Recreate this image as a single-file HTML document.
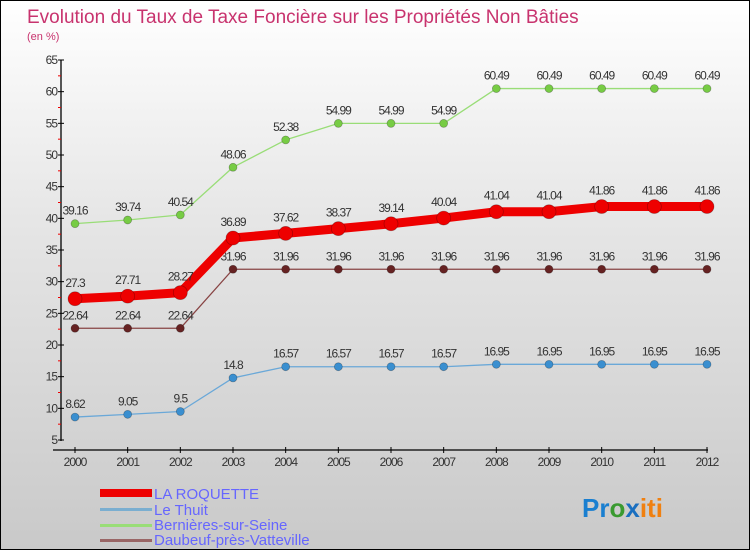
<!DOCTYPE html>
<html><head><meta charset="utf-8"><style>
body{margin:0;width:750px;height:550px;overflow:hidden;font-family:"Liberation Sans",sans-serif}
#wrap{position:absolute;left:0;top:0;width:748px;height:548px;border:1px solid #000;background:linear-gradient(#fff,#e6e6e6 40%,#c9c9c9)}
</style></head><body>
<div id="wrap">
<svg width="750" height="550" style="position:absolute;left:-1px;top:-1px">
<text x="27" y="23" font-size="19" fill="#c8336e">Evolution du Taux de Taxe Foncière sur les Propriétés Non Bâties</text>
<text x="27" y="40" font-size="11" fill="#c8336e">(en %)</text>
<g id="axes"></g><g id="series"></g>
<g font-size="15" fill="#6666ff">
<rect x="100" y="489" width="52" height="8" fill="#e00"/>
<text x="154" y="499">LA ROQUETTE</text>
<rect x="100" y="508" width="52" height="3" fill="#7aaed0"/>
<text x="154" y="515">Le Thuit</text>
<rect x="100" y="524" width="52" height="3" fill="#99dd77"/>
<text x="154" y="530">Bernières-sur-Seine</text>
<rect x="100" y="539" width="52" height="3" fill="#996666"/>
<text x="154" y="545">Daubeuf-près-Vatteville</text>
</g>
<text x="582" y="517" font-size="26" font-weight="bold"><tspan fill="#1a7fd0">Pr</tspan><tspan fill="#3a9a30">o</tspan><tspan fill="#1a6fc0">x</tspan><tspan fill="#f08010">iti</tspan></text>
</svg></div>
<script>
const years=[2000,2001,2002,2003,2004,2005,2006,2007,2008,2009,2010,2011,2012];
const laRoquette=[27.3,27.71,28.27,36.89,37.62,38.37,39.14,40.04,41.04,41.04,41.86,41.86,41.86];
const leThuit=[8.62,9.05,9.5,14.8,16.57,16.57,16.57,16.57,16.95,16.95,16.95,16.95,16.95];
const bernieres=[39.16,39.74,40.54,48.06,52.38,54.99,54.99,54.99,60.49,60.49,60.49,60.49,60.49];
const daubeuf=[22.64,22.64,22.64,31.96,31.96,31.96,31.96,31.96,31.96,31.96,31.96,31.96,31.96];
const yTicks=[5,10,15,20,25,30,35,40,45,50,55,60,65];
const NS='http://www.w3.org/2000/svg';
const xs=i=>75+i*(707-75)/(years.length-1);
const ys=v=>440-(v-5)*(380/60);
function mk(tag,attrs,parent,txt){const e=document.createElementNS(NS,tag);for(const k in attrs)e.setAttribute(k,attrs[k]);if(txt!==undefined)e.textContent=txt;parent.appendChild(e);return e;}
const ax=document.getElementById('axes');
let yl=mk('line',{x1:61,y1:60,x2:61,y2:441,stroke:'#000','stroke-width':1.3},ax);


yTicks.forEach(t=>{const y=ys(t);
 mk('line',{x1:58,y1:y,x2:64,y2:y,stroke:'#000'},ax);
 if(t<65)mk('line',{x1:58,y1:ys(t+2.5),x2:61,y2:ys(t+2.5),stroke:'#e00'},ax);
 let tx=mk('text',{x:57,y:y+4,'font-size':12,'text-anchor':'end',fill:'#333','letter-spacing':'-1'},ax,t);
 
 
});
let xl=mk('line',{x1:53,y1:450,x2:708,y2:450,stroke:'#000','stroke-width':1.3},ax);


years.forEach((yr,i)=>{const x=xs(i);
 mk('line',{x1:x,y1:447,x2:x,y2:453,stroke:'#000'},ax);
 let tx=mk('text',{x:x,y:466,'font-size':12,'text-anchor':'middle',fill:'#333','letter-spacing':'-1'},ax,yr);
 
 
});
const sg=document.getElementById('series');
function draw(vals,name,color,dot,w,r){
 const g=mk('g',{},sg);
 
 
 mk('polyline',{points:vals.map((v,i)=>xs(i)+','+ys(v)).join(' '),fill:'none',stroke:color,'stroke-width':w,'stroke-linejoin':'round'},g);
 vals.forEach((v,i)=>{
  let c=mk('circle',{cx:xs(i),cy:ys(v),r:r,fill:dot,stroke:'rgba(0,0,0,0.3)','stroke-width':0.7},g);
  
  
  let t=mk('text',{x:xs(i),y:ys(v)-r-5,'font-size':12,'text-anchor':'middle',fill:'#333','letter-spacing':'-1'},g,v);
  
  
 });
}
draw(leThuit,'le-thuit','#6aa8d8','#3a8fd0',1.3,4);
draw(bernieres,'bernieres','#99dd77','#77cc44',1.3,4);
draw(daubeuf,'daubeuf','#884444','#662222',1.3,4);
draw(laRoquette,'la-roquette','#ee0000','#ee0000',9,7);
</script>
</body></html>
